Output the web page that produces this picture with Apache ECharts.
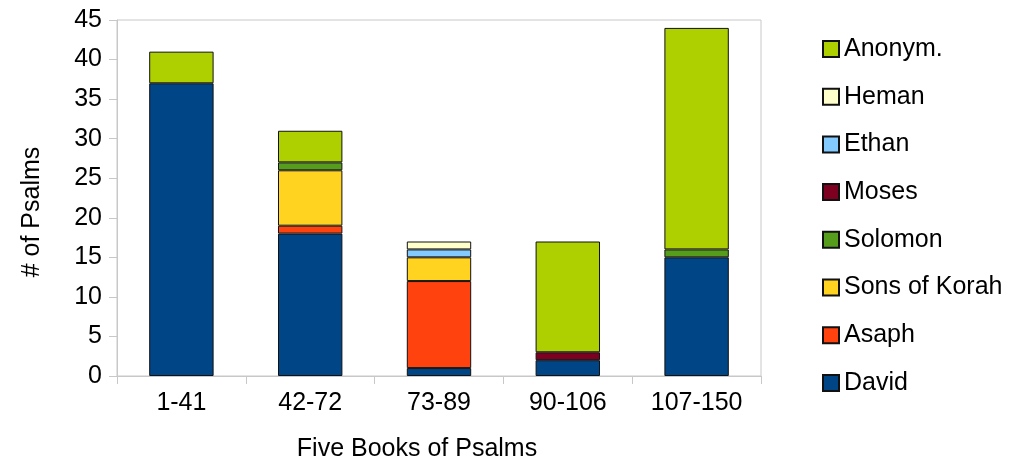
<!DOCTYPE html>
<html>
<head>
<meta charset="utf-8">
<script src="https://cdn.jsdelivr.net/npm/echarts@6/dist/echarts.min.js"></script>
<style>html,body{margin:0;padding:0;background:#fff;}#c{width:1028px;height:467px;}</style>
</head>
<body>
<div id="c"></div>
<script>
const categories = ['1-41', '42-72', '73-89', '90-106', '107-150'];
const david   = [37, 18, 1, 2, 15];
const asaph   = [null, 1, 11, null, null];
const korah   = [null, 7, 3, null, null];
const solomon = [null, 1, null, null, 1];
const moses   = [null, null, null, 1, null];
const ethan   = [null, null, 1, null, null];
const heman   = [null, null, 1, null, null];
const anonym  = [4, 4, null, 14, 28];
const seriesNames = ['David', 'Asaph', 'Sons of Korah', 'Solomon', 'Moses', 'Ethan', 'Heman', 'Anonym.'];
const seriesData = [david, asaph, korah, solomon, moses, ethan, heman, anonym];
const colors = ['#004586', '#ff420e', '#ffd320', '#579d1c', '#7e0021', '#83caff', '#ffffcc', '#aecf00'];

const font = 'Liberation Sans, Arial, sans-serif';
const chart = echarts.init(document.getElementById('c'), null, {renderer: 'canvas'});
chart.setOption({
  animation: false,
  backgroundColor: '#fff',
  grid: {left: 117, right: 267, top: 20, bottom: 90, show: true, borderColor: '#c8c8c8', borderWidth: 1},
  legend: {
    orient: 'vertical', left: 822, top: 36.5, padding: 0,
    itemWidth: 16, itemHeight: 16, itemGap: 22.7,
    icon: 'rect',
    data: seriesNames.slice().reverse(),
    textStyle: {fontFamily: font, fontSize: 25, color: '#000', lineHeight: 25}
  },
  xAxis: {
    type: 'category', data: categories,
    name: 'Five Books of Psalms', nameLocation: 'middle', nameGap: 61,
    nameTextStyle: {fontFamily: font, fontSize: 25, color: '#000', padding: [0, 44, 0, 0]},
    axisLine: {lineStyle: {color: '#c8c8c8'}},
    axisTick: {show: true, length: 8, lineStyle: {color: '#c8c8c8'}},
    axisLabel: {fontFamily: font, fontSize: 25, color: '#000', margin: 15}
  },
  yAxis: {
    type: 'value', min: 0, max: 45, interval: 5,
    name: '# of Psalms', nameLocation: 'middle', nameGap: 72,
    nameTextStyle: {fontFamily: font, fontSize: 25, color: '#000', padding: [0, 28, 0, 0]},
    axisLine: {show: true, lineStyle: {color: '#c8c8c8'}},
    axisTick: {show: true, length: 8, lineStyle: {color: '#c8c8c8'}},
    axisLabel: {fontFamily: font, fontSize: 25, color: '#000', margin: 15},
    splitLine: {show: false}
  },
  series: seriesNames.map((n, i) => ({
    name: n, type: 'bar', stack: 'all', data: seriesData[i], barWidth: '50%',
    itemStyle: {color: colors[i], borderColor: '#111', borderWidth: 1}
  }))
});
</script>
</body>
</html>
